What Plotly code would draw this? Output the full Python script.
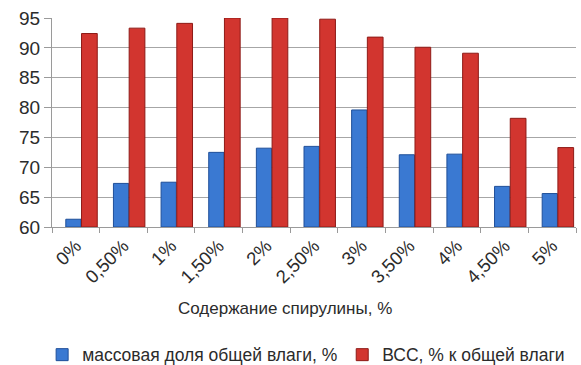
import plotly.graph_objects as go

# Spirulina content (x categories)
categories = ["0%", "0,50%", "1%", "1,50%", "2%", "2,50%", "3%", "3,50%", "4%", "4,50%", "5%"]

# Mass fraction of total moisture, %
moisture = [61.3, 67.3, 67.5, 72.5, 73.2, 73.5, 79.6, 72.1, 72.2, 66.8, 65.6]

# Water-binding capacity, % of total moisture
wbc = [92.4, 93.3, 94.1, 95.0, 95.0, 94.8, 91.8, 90.1, 89.1, 78.2, 73.3]

series_names = ["массовая доля общей влаги, %", "ВСС, % к общей влаги"]
x_title = "Содержание спирулины, %"

y_ticks = [60, 65, 70, 75, 80, 85, 90, 95]
y_floor = 60

font_family = "Liberation Sans, Arial, sans-serif"
text_color = "#2b2b2b"

fig = go.Figure()
fig.add_trace(go.Bar(
    x=categories, y=[v - y_floor for v in moisture], base=y_floor,
    name=series_names[0],
    marker=dict(color="#3a79d2", line=dict(color="#1f4f99", width=1)),
    width=0.32, offset=-0.21,
))
fig.add_trace(go.Bar(
    x=categories, y=[v - y_floor for v in wbc], base=y_floor,
    name=series_names[1],
    marker=dict(color="#d2352f", line=dict(color="#8e1b17", width=1)),
    width=0.33, offset=0.12,
))

fig.update_layout(
    width=581, height=365,
    margin=dict(l=52, r=5, t=18, b=138, autoexpand=False),
    paper_bgcolor="white", plot_bgcolor="white",
    barmode="overlay",
    showlegend=True,
    legend=dict(
        orientation="h", x=0.485, xanchor="center",
        yref="container", y=0.028, yanchor="middle",
        font=dict(family=font_family, size=17.5, color=text_color),
        itemwidth=30, traceorder="normal",
    ),
    font=dict(family=font_family, color=text_color),
    annotations=[dict(
        text=x_title, xref="paper", yref="paper", x=0.445, y=0,
        xanchor="center", yanchor="middle", yshift=-81, showarrow=False,
        font=dict(family=font_family, size=17, color=text_color),
    )],
)

fig.update_xaxes(
    type="category", tickangle=-45, automargin=False,
    tickfont=dict(family=font_family, size=18.5, color=text_color),
    showline=True, linecolor="#9a9a9a", linewidth=1,
    ticks="outside", ticklen=5, tickcolor="#9a9a9a",
    tickson="boundaries",
    range=[-0.5, 10.5],
)

fig.update_yaxes(
    range=[60, 95], tickvals=y_ticks, automargin=False,
    tickfont=dict(family=font_family, size=19, color=text_color),
    showgrid=True, gridcolor="#a6a6a6", gridwidth=1,
    showline=True, linecolor="#9a9a9a", linewidth=1,
    ticks="outside", ticklen=7, tickcolor="#9a9a9a",
    zeroline=False,
)

fig.write_html("out.html")
